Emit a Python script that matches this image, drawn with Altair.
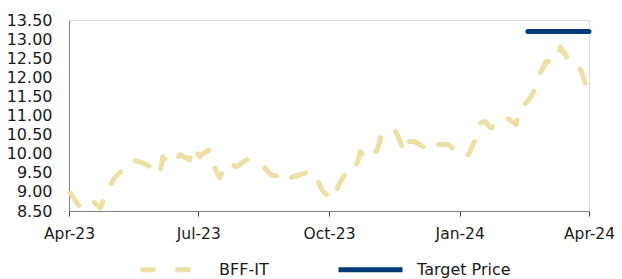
import altair as alt
import pandas as pd

price_dates = [
    "2023-04-02", "2023-04-09", "2023-04-14", "2023-04-18", "2023-04-23", "2023-04-28",
    "2023-05-03", "2023-05-09", "2023-05-15", "2023-05-23", "2023-05-28", "2023-05-31",
    "2023-06-04", "2023-06-06", "2023-06-13", "2023-06-18", "2023-06-25", "2023-06-27",
    "2023-07-02", "2023-07-04", "2023-07-09", "2023-07-11", "2023-07-16", "2023-07-21",
    "2023-07-28", "2023-08-04", "2023-08-16", "2023-08-21", "2023-08-29", "2023-09-02",
    "2023-09-05", "2023-09-11", "2023-09-18", "2023-09-21", "2023-09-26", "2023-10-03",
    "2023-10-09", "2023-10-13", "2023-10-15", "2023-10-21", "2023-10-23", "2023-10-28",
    "2023-11-04", "2023-11-07", "2023-11-14", "2023-11-16", "2023-11-18", "2023-11-23",
    "2023-11-25", "2023-11-30", "2023-12-10", "2023-12-12", "2023-12-17", "2023-12-24",
    "2023-12-28", "2023-12-30", "2024-01-07", "2024-01-12", "2024-01-16", "2024-01-19",
    "2024-01-23", "2024-02-02", "2024-02-10", "2024-02-11", "2024-02-18", "2024-02-22",
    "2024-02-27", "2024-03-02", "2024-03-09", "2024-03-12", "2024-03-16", "2024-03-19",
    "2024-03-26", "2024-03-29", "2024-03-31",
]
price_values = [
    8.97, 8.58, 8.61, 8.76, 8.58, 9.05,
    9.37, 9.58, 9.84, 9.76, 9.66, 9.71,
    9.50, 9.92, 9.71, 9.97, 9.84, 10.18,
    9.92, 10.00, 10.10, 9.76, 9.37, 9.76,
    9.66, 9.84, 9.66, 9.45, 9.39, 9.24,
    9.39, 9.45, 9.55, 9.50, 9.05, 8.79,
    9.26, 9.50, 9.45, 9.76, 10.05, 9.84,
    10.10, 10.50, 10.55, 10.63, 10.50, 10.05,
    10.32, 10.32, 10.10, 10.05, 10.24, 10.24,
    10.10, 10.18, 9.97, 10.37, 10.82, 10.84,
    10.68, 10.97, 10.76, 11.16, 11.37, 11.61,
    12.13, 12.42, 12.39, 12.79, 12.55, 12.30,
    12.21, 11.89, 11.68,
]
target_dates = ["2024-02-18", "2024-04-01"]
target_values = [13.2, 13.2]

series_names = ["BFF-IT", "Target Price"]
y_ticks = [8.5, 9.0, 9.5, 10.0, 10.5, 11.0, 11.5, 12.0, 12.5, 13.0, 13.5]
x_ticks = [(2023, 4), (2023, 7), (2023, 10), (2024, 1), (2024, 4)]

df = pd.concat([
    pd.DataFrame({"date": price_dates, "value": price_values, "series": series_names[0]}),
    pd.DataFrame({"date": target_dates, "value": target_values, "series": series_names[1]}),
], ignore_index=True)

FONT = "DejaVu Sans"

x_vals = [alt.DateTime(year=y, month=m, date=1, utc=True) for y, m in x_ticks]

chart = alt.Chart(df).mark_line(strokeWidth=5, strokeCap="round", strokeJoin="round").encode(
    x=alt.X("date:T",
            scale=alt.Scale(type="utc",
                            domain=[alt.DateTime(year=2023, month=4, date=1, utc=True),
                                    alt.DateTime(year=2024, month=4, date=1, utc=True)]),
            axis=alt.Axis(values=x_vals, labelExpr="utcFormat(datum.value, '%b-%y')", title=None,
                          grid=False, tickSize=5, tickColor="#404040", domainColor="#808080",
                          labelFlush=False, labelBound=False,
                          labelPadding=10, labelFontSize=15.5, labelFont=FONT, labelColor="#1a1a1a")),
    y=alt.Y("value:Q",
            scale=alt.Scale(domain=[8.5, 13.5], nice=False, zero=False),
            axis=alt.Axis(values=y_ticks, format=".2f", title=None, grid=False, ticks=False,
                          domainColor="#808080", labelPadding=17, labelFontSize=16,
                          labelFont=FONT, labelColor="#1a1a1a")),
    color=alt.Color("series:N",
                    scale=alt.Scale(domain=series_names, range=["#EDE0A4", "#003A78"]),
                    legend=alt.Legend(title=None, orient="none", direction="horizontal",
                                      legendX=69, legendY=215, symbolType="stroke",
                                      symbolSize=4096, symbolStrokeWidth=5,
                                      labelFontSize=16, labelFont=FONT, labelColor="#1a1a1a",
                                      labelOffset=12, columnPadding=59)),
    strokeDash=alt.StrokeDash("series:N",
                              scale=alt.Scale(domain=series_names, range=[[15, 20], [1, 0]]),
                              legend=None),
    detail="series:N",
).properties(
    width=520, height=191,
    autosize=alt.AutoSizeParams(type="none"),
    padding={"left": 61, "top": 12, "right": 25, "bottom": 68},
).configure_view(stroke=None).configure(background="white")

chart.save("out.html", embed_options={"renderer": "svg", "actions": False})
